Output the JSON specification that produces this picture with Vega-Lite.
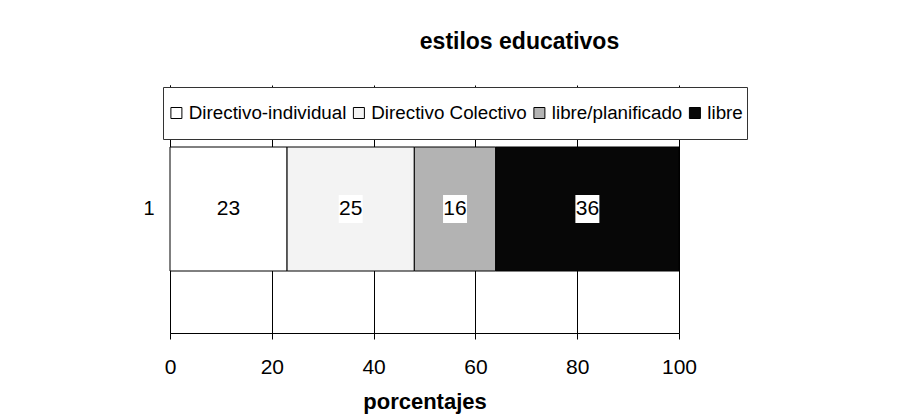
{
  "$schema": "https://vega.github.io/schema/vega-lite/v6.json",
  "width": 509,
  "height": 248,
  "autosize": {"type": "none"},
  "padding": {"left": 170, "top": 85, "right": 225, "bottom": 83},
  "background": "white",
  "title": {
    "text": "estilos educativos",
    "font": "Liberation Sans",
    "fontSize": 23,
    "fontWeight": "bold",
    "color": "black",
    "anchor": "middle",
    "frame": "group",
    "dx": 95,
    "offset": 31
  },
  "data": {
    "values": [
      {"cat": "1", "estilo": "Directivo-individual", "valor": 23, "orden": 1},
      {"cat": "1", "estilo": "Directivo Colectivo", "valor": 25, "orden": 2},
      {"cat": "1", "estilo": "libre/planificado", "valor": 16, "orden": 3},
      {"cat": "1", "estilo": "libre", "valor": 36, "orden": 4}
    ]
  },
  "transform": [
    {"stack": "valor", "groupby": ["cat"], "sort": [{"field": "orden", "order": "ascending"}], "as": ["v0", "v1"]},
    {"calculate": "(datum.v0 + datum.v1) / 2", "as": "medio"}
  ],
  "encoding": {
    "y": {
      "field": "cat",
      "type": "nominal",
      "scale": {"paddingInner": 0.5, "paddingOuter": 0.25},
      "axis": {
        "title": null,
        "ticks": false,
        "labelAngle": 0,
        "labelFont": "Liberation Sans",
        "labelFontSize": 20,
        "labelColor": "black",
        "labelPadding": 16,
        "domainColor": "black",
        "domainWidth": 1
      }
    }
  },
  "layer": [
    {
      "mark": {"type": "bar", "stroke": "black", "strokeWidth": 1, "opacity": 1},
      "encoding": {
        "x": {
          "field": "v0",
          "type": "quantitative",
          "scale": {"domain": [0, 100], "nice": false, "zero": true},
          "axis": {
            "values": [0, 20, 40, 60, 80, 100],
            "title": "porcentajes",
            "grid": true,
            "gridColor": "black",
            "gridOpacity": 1,
            "gridWidth": 1,
            "domainColor": "black",
            "domainWidth": 1,
            "tickColor": "black",
            "tickSize": 6,
            "labelFont": "Liberation Sans",
            "labelFontSize": 21,
            "labelColor": "black",
            "labelPadding": 17,
            "labelFlush": false,
            "titleFont": "Liberation Sans",
            "titleFontSize": 22,
            "titleFontWeight": "bold",
            "titleColor": "black",
            "titlePadding": 14
          }
        },
        "x2": {"field": "v1"},
        "color": {
          "field": "estilo",
          "type": "nominal",
          "sort": ["Directivo-individual", "Directivo Colectivo", "libre/planificado", "libre"],
          "scale": {
            "domain": ["Directivo-individual", "Directivo Colectivo", "libre/planificado", "libre"],
            "range": ["#ffffff", "#f3f3f3", "#b3b3b3", "#070707"]
          },
          "legend": {
            "orient": "none",
            "legendX": -7,
            "legendY": 2,
            "direction": "horizontal",
            "title": null,
            "strokeColor": "#333333",
            "fillColor": "white",
            "padding": 4,
            "clipHeight": 44,
            "labelFont": "Liberation Sans",
            "labelFontSize": 18.8,
            "labelColor": "black",
            "labelLimit": 400,
            "labelOffset": 3,
            "columnPadding": 2.5,
            "symbolType": "square",
            "symbolSize": 121,
            "symbolStrokeColor": "black",
            "symbolStrokeWidth": 1,
            "symbolOpacity": 1
          }
        }
      }
    },
    {
      "mark": {"type": "point", "shape": "M-0.857,-1H0.857V1H-0.857Z", "size": 784, "filled": true, "color": "white", "opacity": 1, "strokeWidth": 0},
      "encoding": {
        "x": {"field": "medio", "type": "quantitative"}
      }
    },
    {
      "mark": {"type": "text", "font": "Liberation Sans", "fontSize": 21, "color": "black", "baseline": "middle", "align": "center"},
      "encoding": {
        "x": {"field": "medio", "type": "quantitative"},
        "text": {"field": "valor", "type": "quantitative"}
      }
    }
  ],
  "config": {
    "view": {"stroke": null}
  }
}
